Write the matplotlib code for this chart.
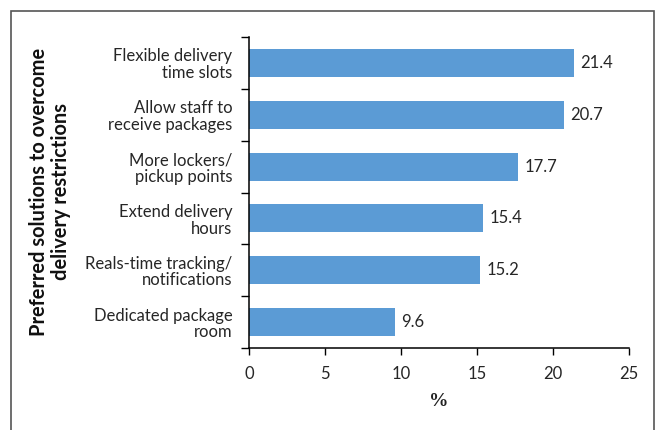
import matplotlib.pyplot as plt
from matplotlib.patches import Rectangle
import numpy as np

# data, top to bottom as shown
labels = ["Flexible delivery\ntime slots",
          "Allow staff to\nreceive packages",
          "More lockers/\npickup points",
          "Extend delivery\nhours",
          "Reals-time tracking/\nnotifications",
          "Dedicated package\nroom"]
values = [21.4, 20.7, 17.7, 15.4, 15.2, 9.6]
xticks = [0, 5, 10, 15, 20, 25]

plt.rcParams['font.family'] = ['Lato', 'DejaVu Sans']
text_col = '#262626'

fig = plt.figure(figsize=(6.6, 4.3), dpi=100)
ax = fig.add_axes([249/660, 1 - 348/430, 380/660, 311/430])

y = np.arange(len(values))
ax.barh(y, values, height=0.54, color='#5B9BD5', zorder=2)
for yi, v in zip(y, values):
    ax.text(v + 0.4, yi, "%.1f" % v, va='center', ha='left',
            fontsize=12, color=text_col)

ax.set_xlim(0, 25)
ax.set_ylim(len(values) - 0.5, -0.5)
ax.set_xticks(xticks)
ax.set_xticklabels([str(t) for t in xticks], fontsize=12, color=text_col)

# category boundaries get tick marks, labels sit at centres
ax.set_yticks(np.arange(-0.5, len(values), 1.0))
ax.set_yticklabels([])
ax.set_yticks(y, minor=True)
ax.set_yticklabels(labels, minor=True, fontsize=12, color=text_col,
                   linespacing=1.05)
ax.tick_params(axis='y', which='minor', length=0, pad=12)
ax.tick_params(axis='y', which='major', length=6, width=1)
ax.tick_params(axis='x', length=5, width=1, pad=8)

for s in ['top', 'right']:
    ax.spines[s].set_visible(False)
for s in ['left', 'bottom']:
    ax.spines[s].set_linewidth(1.1)

ax.set_xlabel('%', fontsize=14, fontweight='bold', family='Liberation Serif',
              labelpad=8, color='#222222')
fig.text(50/660, 1 - 192/430,
         "Preferred solutions to overcome\ndelivery restrictions",
         rotation=90, ha='center', va='center', fontsize=14.4,
         fontweight='bold', color='#111111', linespacing=1.15)

# outer frame
fig.patches.append(Rectangle((11/660, -0.1), 643/660, 1.1 - 11/430,
                             transform=fig.transFigure, fill=False,
                             edgecolor='#555555', linewidth=1.2))

fig.savefig('out.png', dpi=100)
